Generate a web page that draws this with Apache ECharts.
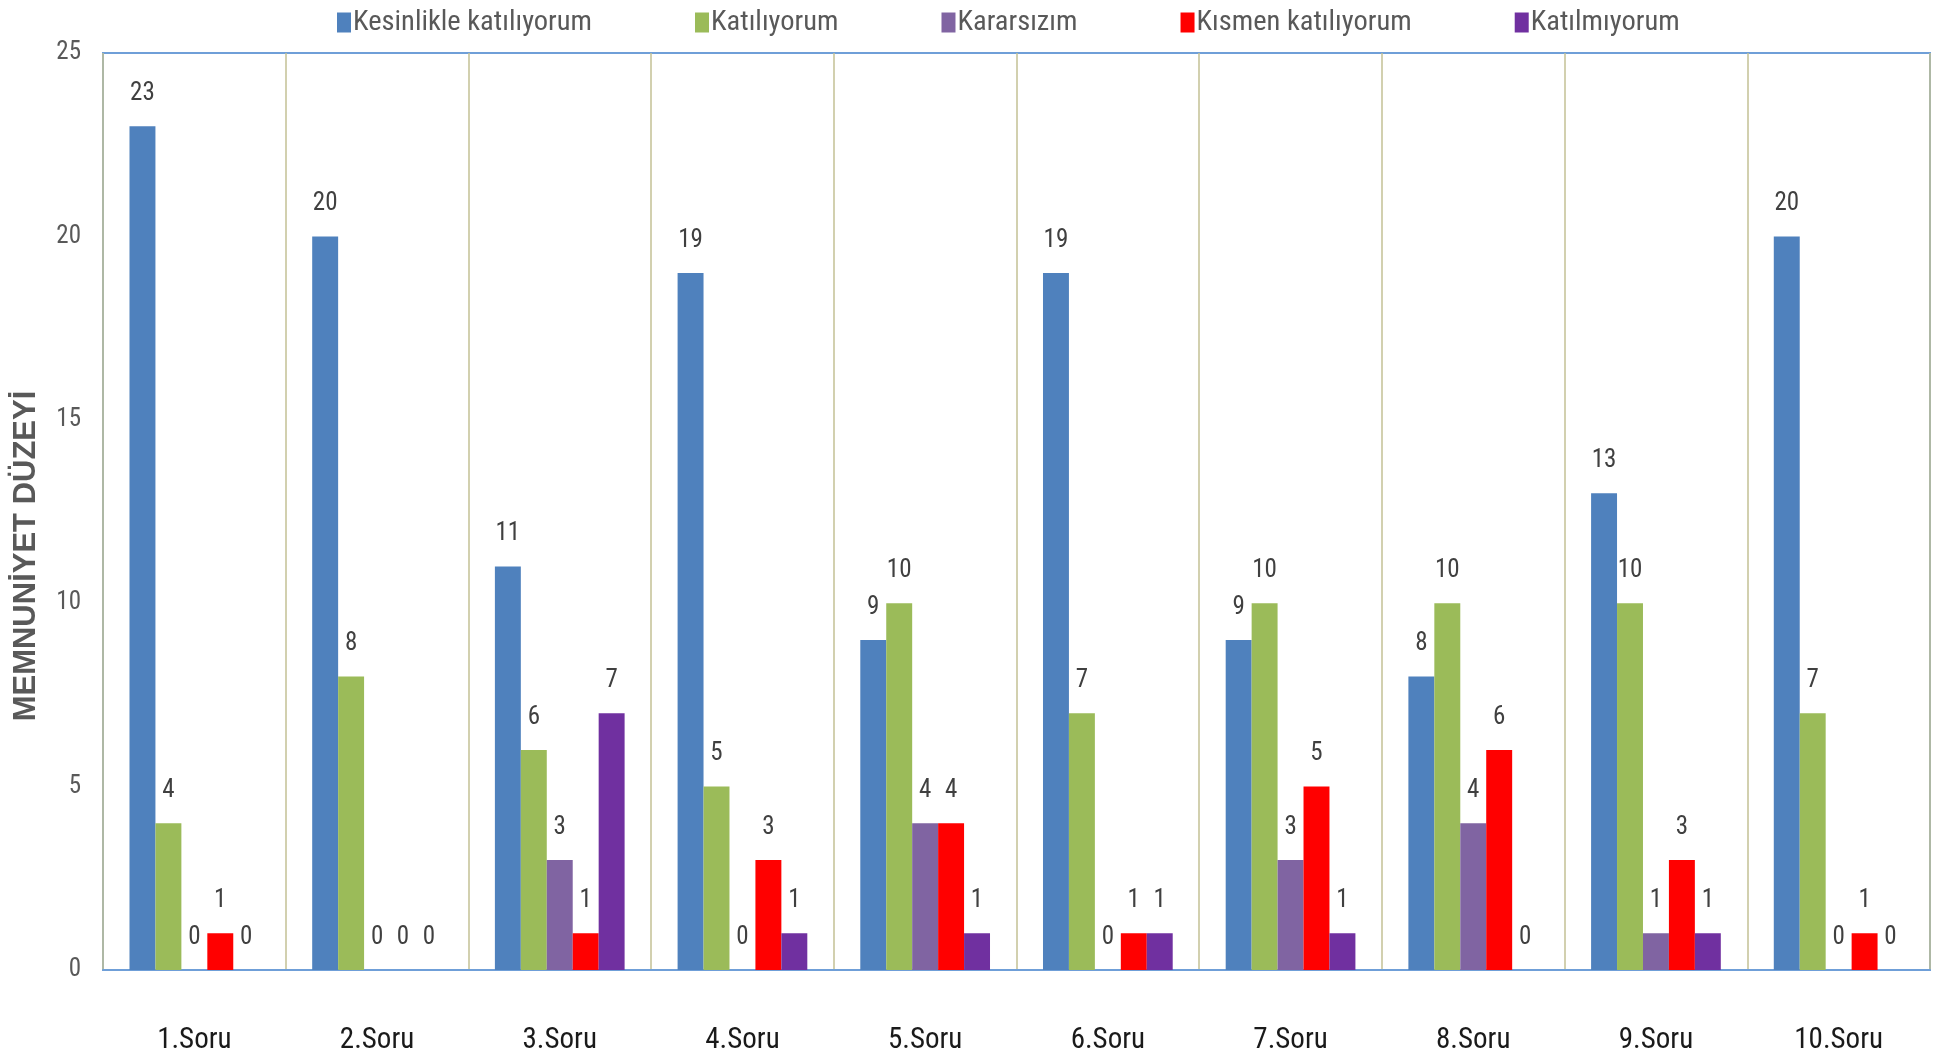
<!DOCTYPE html>
<html><head><meta charset="utf-8">
<script src="https://cdn.jsdelivr.net/npm/echarts@6/dist/echarts.min.js"></script>
<style>html,body{margin:0;padding:0;background:#fff}#c{width:1937px;height:1064px}</style>
</head><body><div id="c"></div>
<script>
const categories = ['1.Soru','2.Soru','3.Soru','4.Soru','5.Soru','6.Soru','7.Soru','8.Soru','9.Soru','10.Soru'];
const seriesNames = ['Kesinlikle katılıyorum','Katılıyorum','Kararsızım','Kısmen katılıyorum','Katılmıyorum'];
const kesinlikle = [23,20,11,19,9,19,9,8,13,20];
const katiliyorum = [4,8,6,5,10,7,10,10,10,7];
const kararsizim = [0,0,3,0,4,0,3,4,1,0];
const kismen = [1,0,1,3,4,1,5,6,3,1];
const katilmiyorum = [0,0,7,1,1,1,1,0,1,0];
const yTicks = {min:0, max:25, interval:5};
const yTitle = 'MEMNUNİYET DÜZEYİ';

const colors = ['#4f81bd','#9bbb59','#8064a2','#ff0000','#7030a0'];
const FONT = '"Liberation Sans Narrow","Arial Narrow","Roboto Condensed","Liberation Sans",sans-serif';
const allData = [kesinlikle,katiliyorum,kararsizim,kismen,katilmiyorum];

const chart = echarts.init(document.getElementById('c'));
chart.setOption({
  animation:false,
  color: colors,
  legend: {
    top: 3, left: 332, itemGap: 103,
    itemWidth: 14, itemHeight: 20,
    icon: 'rect',
    textStyle: {fontFamily: FONT, fontSize: 28.5, color:'#595959', padding:[0,0,0,-3]},
    data: seriesNames
  },
  graphic: [{
    type:'text', rotation: Math.PI/2,
    x: 26, y: 556,
    style: {text: yTitle, fontFamily:'"Liberation Sans",Arial,sans-serif', fontSize:31, fontWeight:'bold', fill:'#595959', align:'center', verticalAlign:'middle'}
  }],
  grid: {left:103, right:7, top:53, bottom:94, show:true, borderColor:'#6f9fd8', borderWidth:2},
  xAxis: {
    type:'category', data: categories,
    axisLine:{show:true, lineStyle:{color:'#6f9fd8', width:2}},
    axisTick:{show:false},
    splitLine:{show:true, lineStyle:{color:'#c3c095', width:1.5}},
    axisLabel:{fontFamily:FONT, fontSize:29, color:'#1a1a1a', margin:56}
  },
  yAxis: {
    type:'value', min:yTicks.min, max:yTicks.max, interval:yTicks.interval,
    axisLine:{show:false}, axisTick:{show:false}, splitLine:{show:false},
    axisLabel:{fontFamily:FONT, fontSize:25, color:'#595959', margin:22}
  },
  series: seriesNames.map((n,i)=>({
    name:n, type:'bar', data: allData[i],
    barGap:'0%', barCategoryGap:'29%',
    label:{show:true, position:'top', distance:20, fontFamily:FONT, fontSize:25, color:'#404040'}
  }))
});
</script></body></html>
